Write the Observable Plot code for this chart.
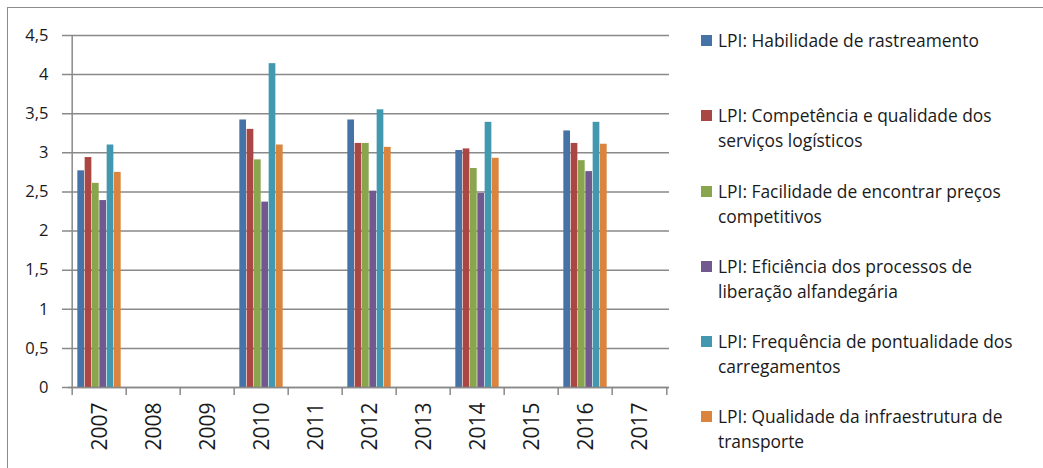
<!DOCTYPE html>
<html>
<head>
<meta charset="utf-8">
<script src="https://cdn.jsdelivr.net/npm/d3@7"></script>
<script src="https://cdn.jsdelivr.net/npm/@observablehq/plot@0.6"></script>
<style>
  html, body { margin: 0; padding: 0; background: #fff; }
  #wrap { position: relative; width: 1043px; height: 468px; overflow: hidden; background: #fff; font-family: "Open Sans", Lato, sans-serif; }
  #border { position: absolute; left: 7px; top: 7px; width: 1100px; height: 500px; border-top: 1.5px solid #8c8c8c; border-left: 1.5px solid #8c8c8c; }
  #chart { position: absolute; left: 0; top: 0; }
  #legend { position: absolute; left: 0; top: 0; width: 1043px; height: 468px; }
  .item { position: absolute; left: 701px; font-size: 17.4px; line-height: 25px; color: #1a1a1a; white-space: nowrap; }
  .sw { position: absolute; left: 0; top: 7px; width: 11px; height: 11px; }
  .lbl { position: absolute; left: 17px; top: 0; }
</style>
</head>
<body>
<div id="wrap">
  <div id="border"></div>
  <div id="chart"></div>
  <div id="legend"></div>
</div>
<script>
const years = ["2007","2008","2009","2010","2011","2012","2013","2014","2015","2016","2017"];
const seriesNames = [
  "LPI: Habilidade de rastreamento",
  "LPI: Competência e qualidade dos serviços logísticos",
  "LPI: Facilidade de encontrar preços competitivos",
  "LPI: Eficiência dos processos de liberação alfandegária",
  "LPI: Frequência de pontualidade dos carregamentos",
  "LPI: Qualidade da infraestrutura de transporte"
];
const legendLines = [
  ["LPI: Habilidade de rastreamento"],
  ["LPI: Competência e qualidade dos", "serviços logísticos"],
  ["LPI: Facilidade de encontrar preços", "competitivos"],
  ["LPI: Eficiência dos processos de", "liberação alfandegária"],
  ["LPI: Frequência de pontualidade dos", "carregamentos"],
  ["LPI: Qualidade da infraestrutura de", "transporte"]
];
const colors = ["#4572A7", "#AA4643", "#89A54E", "#71588F", "#4198AF", "#DB843D"];

const habilidade  = [2.77, null, null, 3.42, null, 3.42, null, 3.03, null, 3.28, null];
const competencia = [2.94, null, null, 3.30, null, 3.12, null, 3.05, null, 3.12, null];
const facilidade  = [2.61, null, null, 2.91, null, 3.12, null, 2.80, null, 2.90, null];
const eficiencia  = [2.39, null, null, 2.37, null, 2.51, null, 2.48, null, 2.76, null];
const frequencia  = [3.10, null, null, 4.14, null, 3.55, null, 3.39, null, 3.39, null];
const qualidade   = [2.75, null, null, 3.10, null, 3.07, null, 2.93, null, 3.11, null];
const seriesValues = [habilidade, competencia, facilidade, eficiencia, frequencia, qualidade];

const yTicks = [0, 0.5, 1, 1.5, 2, 2.5, 3, 3.5, 4, 4.5];

const W = 680, H = 468, mL = 68, mR = 11, mT = 35, mB = 81;
const bw = (W - mL - mR) / years.length;
const barW = 7.33;
const off = (bw - barW * seriesNames.length) / 2;

const gridColor = "#898989";
const textColor = "#1a1a1a";

const marks = [
  Plot.ruleY(yTicks, {stroke: gridColor, strokeWidth: 1.5, insetLeft: -6}),
  Plot.ruleX([years[0]], {x: d => d, stroke: gridColor, strokeWidth: 1.5, dx: -bw / 2}),
  Plot.ruleX(years, {x: d => d, y1: 0, y2: 0, insetBottom: -8, stroke: gridColor, strokeWidth: 1.5, dx: -bw / 2}),
  Plot.ruleX([years[years.length - 1]], {x: d => d, y1: 0, y2: 0, insetBottom: -8, stroke: gridColor, strokeWidth: 1.5, dx: bw / 2})
];
seriesNames.forEach((name, i) => {
  const rows = years.map((yr, j) => ({year: yr, value: seriesValues[i][j]})).filter(d => d.value != null);
  marks.push(Plot.barY(rows, {
    x: "year", y: "value", fill: colors[i],
    insetLeft: off + i * barW,
    insetRight: bw - off - (i + 1) * barW
  }));
});
marks.push(Plot.ruleY([0], {stroke: gridColor, strokeWidth: 1.5}));
marks.push(Plot.axisY(yTicks, {
  tickSize: 0, tickPadding: 20, fontSize: 16.5, fill: textColor,
  tickFormat: d => String(d).replace(".", ","), label: null
}));
marks.push(Plot.axisX({
  tickSize: 0, tickRotate: -90, tickPadding: 15, fontSize: 21, fill: textColor, label: null, dx: 1
}));

const chart = Plot.plot({
  width: W, height: H,
  marginLeft: mL, marginRight: mR, marginTop: mT, marginBottom: mB,
  style: {fontFamily: "'Open Sans', Lato, sans-serif", color: textColor, background: "transparent"},
  x: {type: "band", domain: years, padding: 0},
  y: {domain: [0, 4.5]},
  marks
});
document.getElementById("chart").appendChild(chart);

const legend = document.getElementById("legend");
const centers = [40, 115, 191, 266, 341, 416];
legendLines.forEach((lines, i) => {
  const item = document.createElement("div");
  item.className = "item";
  item.style.top = (centers[i] - 12.5) + "px";
  const sw = document.createElement("div");
  sw.className = "sw";
  sw.style.background = colors[i];
  const lbl = document.createElement("div");
  lbl.className = "lbl";
  lbl.innerHTML = lines.join("<br>");
  item.appendChild(sw);
  item.appendChild(lbl);
  legend.appendChild(item);
});
</script>
</body>
</html>
